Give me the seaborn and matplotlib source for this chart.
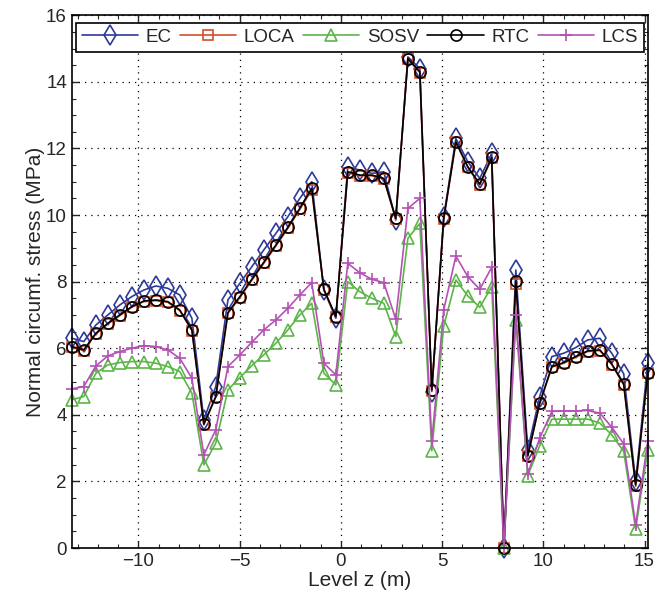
import matplotlib
matplotlib.use("Agg")
import matplotlib.pyplot as plt
import seaborn as sns
import pandas as pd
from matplotlib.ticker import MultipleLocator

z = [-13.29, -12.70, -12.10, -11.51, -10.92, -10.33, -9.73, -9.14, -8.55, -7.96,
     -7.36, -6.77, -6.18, -5.58, -4.99, -4.40, -3.81, -3.21, -2.62, -2.03,
     -1.44, -0.84, -0.25, 0.34, 0.93, 1.53, 2.12, 2.71, 3.31, 3.90,
     4.49, 5.08, 5.68, 6.27, 6.86, 7.45, 8.05, 8.64, 9.23, 9.82,
     10.42, 11.01, 11.60, 12.19, 12.79, 13.38, 13.97, 14.56, 15.16]

EC = [6.3, 6.2, 6.7, 7.0, 7.3, 7.55, 7.75, 7.87, 7.8, 7.6,
      6.9, 3.85, 4.85, 7.45, 7.95, 8.45, 8.95, 9.45, 9.95, 10.5,
      11.0, 7.75, 6.9, 11.45, 11.35, 11.25, 11.3, 9.85, 14.75, 14.4,
      4.7, 9.95, 12.3, 11.6, 11.1, 11.85, 0.0, 8.35, 2.95, 4.55,
      5.75, 5.85, 6.02, 6.25, 6.3, 5.85, 5.23, 2.0, 5.55]

LOCA = [6.03, 5.93, 6.43, 6.73, 6.98, 7.23, 7.4, 7.43, 7.38, 7.13,
        6.53, 3.7, 4.53, 7.05, 7.52, 8.04, 8.55, 9.07, 9.6, 10.17,
        10.75, 7.75, 6.93, 11.27, 11.18, 11.18, 11.08, 9.88, 14.68, 14.28,
        4.73, 9.88, 12.18, 11.43, 10.9, 11.7, 0.0, 7.92, 2.75, 4.33,
        5.43, 5.55, 5.73, 5.9, 5.93, 5.51, 4.9, 1.85, 5.25]

SOSV = [4.45, 4.55, 5.25, 5.5, 5.57, 5.6, 5.6, 5.55, 5.45, 5.3,
        4.65, 2.5, 3.15, 4.75, 5.12, 5.48, 5.8, 6.15, 6.55, 7.0,
        7.35, 5.25, 4.9, 8.0, 7.7, 7.5, 7.35, 6.35, 9.3, 9.75,
        2.92, 6.67, 8.05, 7.57, 7.23, 7.85, 0.0, 6.85, 2.17, 3.07,
        3.87, 3.87, 3.87, 3.87, 3.75, 3.4, 2.9, 0.57, 2.95]

RTC = [6.05, 5.95, 6.45, 6.75, 7.0, 7.25, 7.42, 7.45, 7.4, 7.15,
       6.55, 3.72, 4.55, 7.07, 7.55, 8.07, 8.58, 9.1, 9.63, 10.2,
       10.8, 7.77, 6.95, 11.3, 11.2, 11.2, 11.1, 9.9, 14.7, 14.3,
       4.75, 9.9, 12.2, 11.45, 10.93, 11.73, 0.0, 8.02, 2.77, 4.35,
       5.45, 5.57, 5.75, 5.92, 5.95, 5.53, 4.92, 1.9, 5.27]

LCS = [4.78, 4.85, 5.47, 5.77, 5.9, 6.0, 6.08, 6.05, 5.95, 5.7,
       5.1, 2.8, 3.55, 5.45, 5.8, 6.18, 6.55, 6.85, 7.2, 7.6,
       7.97, 5.55, 5.2, 8.55, 8.27, 8.07, 7.97, 6.87, 10.2, 10.5,
       3.2, 7.15, 8.77, 8.15, 7.77, 8.43, 0.0, 7.0, 2.22, 3.3,
       4.1, 4.12, 4.12, 4.13, 4.05, 3.63, 3.13, 0.7, 3.2]

series_names = ["EC", "LOCA", "SOSV", "RTC", "LCS"]
series_vals = [EC, LOCA, SOSV, RTC, LCS]

sns.set_theme(style="ticks")
plt.rcParams["font.family"] = ["Liberation Sans", "DejaVu Sans"]
plt.rcParams["axes.unicode_minus"] = True

styles = {
    "EC":   dict(color="#2e3a99", marker="d", ms=10),
    "LOCA": dict(color="#d2502c", marker="s", ms=6.5),
    "SOSV": dict(color="#5cb548", marker="^", ms=8.5),
    "RTC":  dict(color="#000000", marker="o", ms=8),
    "LCS":  dict(color="#b452b4", marker="+", ms=9),
}

fig = plt.figure(figsize=(6.59, 6.04), dpi=100)
ax = fig.add_axes([0.109, 0.0927, 0.874, 0.882])

for name, vals in zip(series_names, series_vals):
    st = styles[name]
    df = pd.DataFrame({"z": z, "v": vals})
    sns.lineplot(data=df, x="z", y="v", ax=ax, sort=False, estimator=None,
                 color=st["color"], marker=st["marker"], markersize=st["ms"],
                 markerfacecolor="none", markeredgecolor=st["color"],
                 markeredgewidth=1.2, linewidth=1.2, label=name, clip_on=False)

ax.set_xlim(z[0], z[-1])
ax.set_ylim(0, 16)
ax.xaxis.set_major_locator(MultipleLocator(5))
ax.xaxis.set_minor_locator(MultipleLocator(1))
ax.yaxis.set_major_locator(MultipleLocator(2))
ax.yaxis.set_minor_locator(MultipleLocator(0.5))
ax.tick_params(which="both", direction="in", top=True, right=True, labelsize=13.5)
ax.tick_params(which="major", length=5, width=1)
ax.tick_params(which="minor", length=3, width=0.8)
ax.grid(True, which="major", color="black", linestyle=(0, (1, 4)), linewidth=0.9)
for s in ax.spines.values():
    s.set_color("black")
    s.set_linewidth(1.2)
ax.set_xlabel("Level z (m)", fontsize=15, labelpad=1)
ax.set_ylabel("Normal circumf. stress (MPa)", fontsize=15, labelpad=1)

leg = ax.legend(loc="upper center", ncol=5, fontsize=13.5, frameon=True,
                fancybox=False, edgecolor="black", framealpha=1,
                handlelength=3.0, columnspacing=0.45, handletextpad=0.4,
                borderpad=0.3, borderaxespad=0.0, bbox_to_anchor=(0.5, 0.985))
leg.get_frame().set_linewidth(1.2)

fig.savefig("out.png", dpi=100)
